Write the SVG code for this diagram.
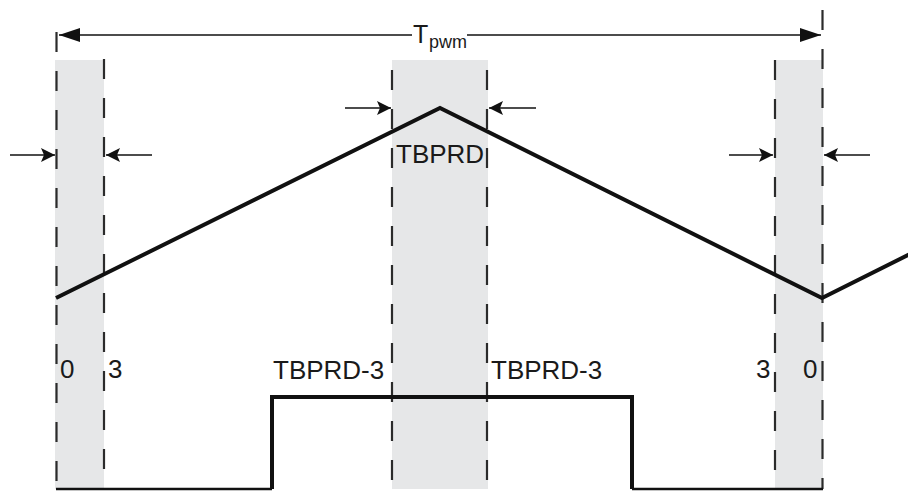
<svg xmlns="http://www.w3.org/2000/svg" width="908" height="491" viewBox="0 0 908 491">
<style>
.band{fill:#e6e7e8}
.dash{stroke:#2b2b2b;stroke-width:2.2;stroke-dasharray:20 19;fill:none}
.thin{stroke:#111;stroke-width:1.3;fill:none}
.wave{stroke:#111;stroke-width:4;fill:none;stroke-linejoin:miter}
.lbl{font-family:"Liberation Sans",Arial,sans-serif;font-size:26px;fill:#1a1a1a}
</style>
<defs>
<marker id="big" viewBox="0 0 21 14" refX="21" refY="7" markerWidth="21" markerHeight="14" markerUnits="userSpaceOnUse" orient="auto">
<path d="M0,0 L21,7 L0,14 Z" fill="#111"/>
</marker>
<marker id="small" viewBox="0 0 14 14" refX="14" refY="7" markerWidth="14" markerHeight="14" markerUnits="userSpaceOnUse" orient="auto">
<path d="M0,0 L14,7 L0,14 L3,7 Z" fill="#111"/>
</marker>
</defs>
<g id="bands">
<rect class="band" x="55" y="60" width="49" height="429"/>
<rect class="band" x="392" y="60" width="96" height="429"/>
<rect class="band" x="775" y="60" width="48" height="429"/>
</g>
<g id="guides">
<line class="dash" x1="56.5" y1="32" x2="56.5" y2="489"/>
<line class="dash" x1="104" y1="59" x2="104" y2="489"/>
<line class="dash" x1="392" y1="70" x2="392" y2="489"/>
<line class="dash" x1="487" y1="70" x2="487" y2="489"/>
<line class="dash" x1="775" y1="60" x2="775" y2="489"/>
<line class="dash" x1="822.5" y1="10" x2="822.5" y2="489"/>
</g>
<g id="connectors">
<line class="thin" x1="412" y1="35" x2="59" y2="35" marker-end="url(#big)"/>
<line class="thin" x1="467" y1="35" x2="821" y2="35" marker-end="url(#big)"/>
<line class="thin" x1="10" y1="155" x2="55" y2="155" marker-end="url(#small)"/>
<line class="thin" x1="152" y1="155" x2="106" y2="155" marker-end="url(#small)"/>
<line class="thin" x1="345" y1="108" x2="391" y2="108" marker-end="url(#small)"/>
<line class="thin" x1="536" y1="108" x2="489" y2="108" marker-end="url(#small)"/>
<line class="thin" x1="729" y1="155" x2="773" y2="155" marker-end="url(#small)"/>
<line class="thin" x1="870" y1="155" x2="824" y2="155" marker-end="url(#small)"/>
</g>
<g id="counter">
<polyline class="wave" points="56,298 440,108 822,298 910,254"/>
</g>
<g id="pwm">
<polyline class="wave" points="272,489 272,397 632,397 632,489"/>
<polyline class="wave" style="stroke-width:2.5" points="56,489 272,489"/>
<polyline class="wave" style="stroke-width:2.5" points="632,489 823,489"/>
</g>
<g id="labels">
<text class="lbl" x="413" y="43" style="font-size:25px">T</text>
<text class="lbl" x="429" y="48" style="font-size:18px">pwm</text>
<text class="lbl" x="396" y="163">TBPRD</text>
<text class="lbl" x="60" y="378">0</text>
<text class="lbl" x="108" y="378">3</text>
<text class="lbl" x="273" y="379">TBPRD-3</text>
<text class="lbl" x="491" y="379">TBPRD-3</text>
<text class="lbl" x="756" y="378">3</text>
<text class="lbl" x="803" y="378">0</text>
</g>
</svg>
